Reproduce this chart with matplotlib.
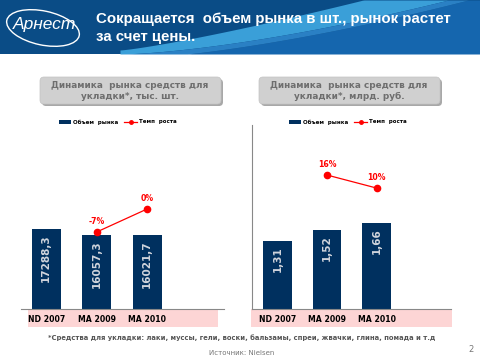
import matplotlib.pyplot as plt
import numpy as np
from matplotlib.patches import Rectangle, FancyBboxPatch, Ellipse
from matplotlib.lines import Line2D

plt.rcParams['font.family'] = ['DejaVu Sans']

title = "Сокращается  объем рынка в шт., рынок растет\nза счет цены."
periods = ["ND 2007", "MA 2009", "MA 2010"]

units = [17288.3, 16057.3, 16021.7]
units_labels = ["17288,3", "16057,3", "16021,7"]
units_growth = [-7, 0]

rub = [1.31, 1.52, 1.66]
rub_labels = ["1,31", "1,52", "1,66"]
rub_growth = [16, 10]

panel_titles = ["Динамика  рынка средств для\nукладки*, тыс. шт.",
                "Динамика  рынка средств для\nукладки*, млрд. руб."]
footnote = "*Средства для укладки: лаки, муссы, гели, воски, бальзамы, спреи, жвачки, глина, помада и т.д"
source = "Источник: Nielsen"

navy = "#00305f"
red = "#ff0000"
pink = "#fdd5d5"

fig = plt.figure(figsize=(4.8, 3.6), dpi=100)
W, H = 480, 360


def fr(x0, y0, x1, y1):
    # pixel box (top-left origin) -> figure fraction rect
    return [x0 / W, 1 - y1 / H, (x1 - x0) / W, (y1 - y0) / H]


# background / decoration layer in pixel coordinates
bg = fig.add_axes([0, 0, 1, 1])
bg.set_xlim(0, W)
bg.set_ylim(H, 0)
bg.axis("off")

# header banner
bg.add_patch(Rectangle((0, 0), W, 54, color="#0a4c86", zorder=0, lw=0))
xs = np.linspace(120, 480, 200)
t = (xs - 120) / 360
edge_lo = 54 - 62 * t ** 1.5
edge_hi = 50 - 80 * t ** 1.2
bg.fill_between(xs, np.clip(edge_lo + 5, 0, 54), 54, color="#1566ae", zorder=1, lw=0)
bg.fill_between(xs, np.clip(edge_hi, 0, 54), np.clip(edge_lo, 0, 54),
                color="#3a9fd8", zorder=1, lw=0)
bg.fill_between(xs, np.clip(edge_lo, 0, 54), np.clip(edge_lo + 5, 0, 54),
                color="#2a80c4", zorder=1, lw=0)

# logo
bg.add_patch(Ellipse((43, 28), 74, 34, angle=12, fill=False, ec="white", lw=1.0, zorder=3))
bg.text(45, 25, "Арнест", color="white", fontsize=12.5, style="italic",
        ha="center", va="center", family="Liberation Sans", zorder=4)

bg.text(96, 28, title, color="white", fontsize=10.8, fontweight="bold",
        ha="left", va="center", linespacing=1.45, family="Liberation Sans", zorder=4)

# panel title boxes
for x0 in (40, 259):
    bg.add_patch(FancyBboxPatch((x0 + 2, 79), 181, 27, boxstyle="round,pad=0,rounding_size=4",
                                fc="#a8a8a8", ec="none", zorder=2))
    bg.add_patch(FancyBboxPatch((x0, 77), 181, 27, boxstyle="round,pad=0,rounding_size=4",
                                fc="#d0d0d0", ec="#c4c4c4", lw=0.5, zorder=3))
for x0, tt in zip((40, 259), panel_titles):
    bg.text(x0 + 90, 91, tt, color="#6e6e6e", fontsize=6.4, fontweight="bold",
            ha="center", va="center", linespacing=1.15, zorder=4)

# pink category bands
bg.add_patch(Rectangle((28, 309), 190, 18, color=pink, zorder=1, lw=0))
bg.add_patch(Rectangle((251, 309), 201, 18, color=pink, zorder=1, lw=0))

bg.text(242, 338, footnote, color="#555555", fontsize=4.85, fontweight="bold",
        ha="center", va="center")
bg.text(242, 353, source, color="#777777", fontsize=5, ha="center", va="center")
bg.text(471, 349, "2", color="#777777", fontsize=6, ha="center", va="center")


def panel(rect, values, labels, growth, ymax, gmin, gmax, spine_left, xlo, xhi):
    ax = fig.add_axes(rect)
    ax.patch.set_alpha(0)
    x = np.arange(len(values))
    ax.bar(x, values, width=0.58, color=navy, zorder=2)
    for xi, v, lab in zip(x, values, labels):
        ax.annotate(lab, (xi, v), xytext=(0, -4), textcoords="offset points",
                    rotation=90, ha="center", va="top", color="#d0d4dc",
                    fontsize=7.5, fontweight="bold")
    ax.set_xlim(xlo, xhi)
    ax.set_ylim(0, ymax)
    ax.set_xticks(x)
    ax.set_xticklabels(periods, fontsize=5.6, fontweight="bold")
    ax.tick_params(axis="x", length=0, pad=4)
    ax.set_yticks([])
    for s in ("top", "right"):
        ax.spines[s].set_visible(False)
    ax.spines["left"].set_visible(spine_left)
    ax.spines["left"].set_color("#888888")
    ax.spines["bottom"].set_color("#888888")

    ax2 = ax.twinx()
    ax2.plot(x[1:], growth, color=red, lw=0.9, marker="o", ms=4.5, zorder=3)
    for xi, g in zip(x[1:], growth):
        ax2.annotate(f"{g}%", (xi, g), xytext=(0, 4.5), textcoords="offset points",
                     ha="center", va="bottom", color=red, fontsize=5.6, fontweight="bold")
    ax2.set_ylim(gmin, gmax)
    ax2.set_xlim(xlo, xhi)
    ax2.axis("off")
    return ax


panel(fr(21, 125, 224, 309), units, units_labels, units_growth,
      39770, -30.4, 25.5, False, -0.5, 3.52)
panel(fr(252, 125, 451, 309), rub, rub_labels, rub_growth,
      3.544, -45.8, 39.1, True, -0.515, 3.5)

# legends
for x0 in (59, 289):
    bg.add_patch(Rectangle((x0, 120), 12, 3.5, color=navy, lw=0))
    bg.text(x0 + 14, 122, "Объем  рынка", fontsize=4, fontweight="bold", va="center")
    bg.add_line(Line2D([x0 + 65, x0 + 78], [122, 122], color=red, lw=0.9))
    bg.plot([x0 + 71.5], [122], "o", color=red, ms=2.5)
    bg.text(x0 + 80, 122, "Темп  роста", fontsize=4, fontweight="bold", va="center")

fig.savefig("out.png", dpi=100)
